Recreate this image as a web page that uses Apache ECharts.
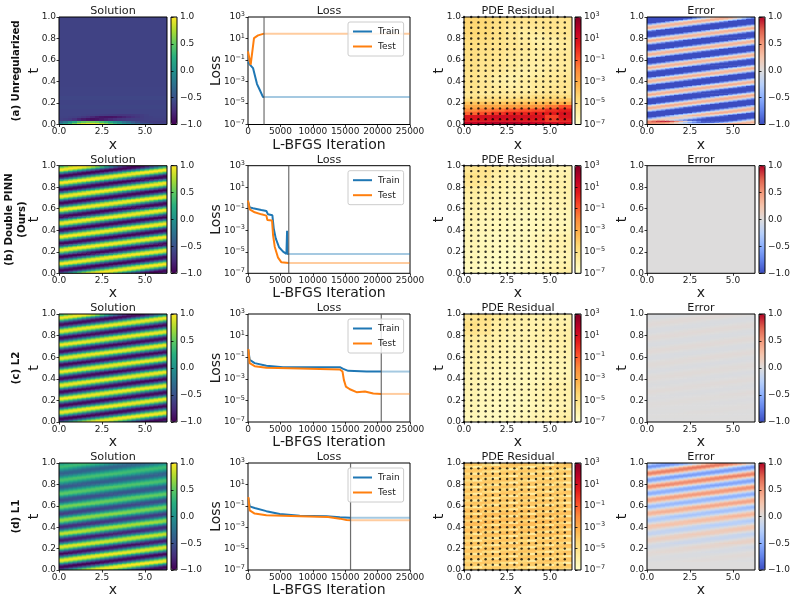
<!DOCTYPE html>
<html>
<head>
<meta charset="utf-8">
<style>html,body{margin:0;padding:0;background:#fff}#chart{width:796px;height:601px}</style>
<script src="https://cdn.jsdelivr.net/npm/echarts@6/dist/echarts.min.js"></script>
</head>
<body>
<div id="chart"></div>
<script>
// Labels
const rowLabels = ['(a) Unregularized', '(b) Double PINN\n(Ours)', '(c) L2', '(d) L1'];
const panelTitles = ['Solution', 'Loss', 'PDE Residual', 'Error'];
const domainTicks = [0, 2.5, 5];
const timeTicks = [0, 0.2, 0.4, 0.6, 0.8, 1];
const iterationTicks = [0, 5000, 10000, 15000, 20000, 25000];
const lossTicks = [1e-7, 1e-5, 1e-3, 1e-1, 1e1, 1e3];
const fieldBarTicks = [-1, -0.5, 0, 0.5, 1];
const residualBarTicks = [-7, -5, -3, -1, 1, 3];

// Loss curves: iteration and log10(loss), up to the selected iterate
const iterTrainA = [0, 258, 773, 1392, 1804, 2320, 2474];
const logTrainA = [-1.2, -1.4, -1.75, -3.24, -3.77, -4.45, -4.45];
const iterTestA = [0, 412, 670, 928, 1546, 2474];
const logTestA = [-0.2, -1.44, -1.29, 1.04, 1.29, 1.45];
const iterTrainB = [0, 258, 773, 2062, 2835, 3093, 3763, 3969, 4278, 4794, 5412, 5928, 6031, 6031, 6100, 6290];
const logTrainB = [-0.34, -0.87, -0.96, -1.12, -1.21, -1.52, -1.61, -2.82, -3.75, -4.58, -4.98, -5.2, -5.2, -3.04, -5.2, -5.2];
const iterTestB = [0, 258, 1031, 2062, 2835, 2990, 3711, 3866, 4124, 4639, 5155, 6290];
const logTestB = [-0.25, -1.05, -1.33, -1.52, -1.64, -2.05, -2.1, -3.44, -4.53, -5.55, -5.98, -6.04];
const iterTrainC = [52, 258, 1031, 2835, 5412, 10567, 14175, 14691, 15464, 18299, 20567];
const logTrainC = [-0.31, -1.24, -1.55, -1.8, -1.92, -1.92, -1.92, -2.08, -2.26, -2.33, -2.33];
const iterTestC = [52, 258, 1031, 2835, 7990, 14175, 14588, 14794, 15103, 15722, 16753, 18041, 19330, 20567];
const logTestC = [-0.25, -1.55, -1.83, -1.98, -2.05, -2.14, -2.33, -3.1, -3.72, -3.97, -4.24, -4.18, -4.37, -4.4];
const iterTrainD = [52, 258, 1031, 2835, 4897, 7990, 12113, 14175, 15825];
const logTrainD = [-0.27, -1.05, -1.2, -1.5, -1.77, -1.92, -1.98, -2.08, -2.11];
const iterTestD = [52, 258, 1031, 2835, 7990, 12371, 14175, 15206, 15825];
const logTestD = [-0.18, -1.42, -1.73, -1.89, -1.98, -2.05, -2.2, -2.33, -2.36];
const selectedIter = [2474, 6290, 20567, 15825];
const lastIter = 25000;

// Reference wave: the stripe pattern repeats every twelve rows (rows run upward in t)
const waveRow0 = [-.13,.13,.38,.61,.79,.92,.99,.99,.92,.79,.61,.38,.13,-.13,-.38,-.61,-.79,-.92,-.99,-.99,-.92,-.79,-.61,-.38];
const waveRow1 = [-.61,-.38,-.13,.13,.38,.61,.79,.92,.99,.99,.92,.79,.61,.38,.13,-.13,-.38,-.61,-.79,-.92,-.99,-.99,-.92,-.79];
const waveRow2 = [-.92,-.79,-.61,-.38,-.13,.13,.38,.61,.79,.92,.99,.99,.92,.79,.61,.38,.13,-.13,-.38,-.61,-.79,-.92,-.99,-.99];
const waveRow3 = [-.99,-.99,-.92,-.79,-.61,-.38,-.13,.13,.38,.61,.79,.92,.99,.99,.92,.79,.61,.38,.13,-.13,-.38,-.61,-.79,-.92];
const waveRow4 = [-.79,-.92,-.99,-.99,-.92,-.79,-.61,-.38,-.13,.13,.38,.61,.79,.92,.99,.99,.92,.79,.61,.38,.13,-.13,-.38,-.61];
const waveRow5 = [-.38,-.61,-.79,-.92,-.99,-.99,-.92,-.79,-.61,-.38,-.13,.13,.38,.61,.79,.92,.99,.99,.92,.79,.61,.38,.13,-.13];
const waveRow6 = [.13,-.13,-.38,-.61,-.79,-.92,-.99,-.99,-.92,-.79,-.61,-.38,-.13,.13,.38,.61,.79,.92,.99,.99,.92,.79,.61,.38];
const waveRow7 = [.61,.38,.13,-.13,-.38,-.61,-.79,-.92,-.99,-.99,-.92,-.79,-.61,-.38,-.13,.13,.38,.61,.79,.92,.99,.99,.92,.79];
const waveRow8 = [.92,.79,.61,.38,.13,-.13,-.38,-.61,-.79,-.92,-.99,-.99,-.92,-.79,-.61,-.38,-.13,.13,.38,.61,.79,.92,.99,.99];
const waveRow9 = [.99,.99,.92,.79,.61,.38,.13,-.13,-.38,-.61,-.79,-.92,-.99,-.99,-.92,-.79,-.61,-.38,-.13,.13,.38,.61,.79,.92];
const waveRow10 = [.79,.92,.99,.99,.92,.79,.61,.38,.13,-.13,-.38,-.61,-.79,-.92,-.99,-.99,-.92,-.79,-.61,-.38,-.13,.13,.38,.61];
const waveRow11 = [.38,.61,.79,.92,.99,.99,.92,.79,.61,.38,.13,-.13,-.38,-.61,-.79,-.92,-.99,-.99,-.92,-.79,-.61,-.38,-.13,.13];
const waveRows = [waveRow0, waveRow1, waveRow2, waveRow3, waveRow4, waveRow5, waveRow6, waveRow7, waveRow8, waveRow9, waveRow10, waveRow11];
const fieldRowCount = 96;

// Stripe strength per band of four rows for the L2 and L1 fits
const stripeAmpC = [1,.995,.99,.99,.985,.985,.98,.98,.98,.98,.975,.975,.975,.975,.97,.97,.97,.97,.97,.97,.97,.97,.97,.97];
const stripeAmpD = [1,1,.98,.97,.95,.92,.88,.85,.82,.78,.74,.7,.66,.62,.58,.55,.52,.49,.46,.43,.41,.39,.37,.35];

// Unregularized fit: the streak close to t = 0, then nearly constant bands
const solutionANearStart = [
  [-.1,.1,.3,.55,.75,.85,.9,.9,.85,.75,.6,.45,.3,.15,0,-.1,-.25,-.35,-.45,-.5,-.55,-.6,-.6,-.6],
  [-.35,-.2,0,.2,.4,.5,.55,.55,.5,.4,.3,.15,0,-.1,-.25,-.35,-.45,-.55,-.6,-.62,-.65,-.65,-.65,-.65],
  [-.62,-.64,-.66,-.72,-.8,-.86,-.9,-.92,-.9,-.86,-.82,-.78,-.74,-.7,-.68,-.66,-.65,-.65,-.64,-.63,-.62,-.62,-.62,-.62],
  [-.61,-.61,-.62,-.63,-.65,-.68,-.72,-.78,-.84,-.88,-.9,-.9,-.88,-.84,-.8,-.76,-.72,-.68,-.65,-.63,-.62,-.61,-.61,-.61],
  [-.6,-.6,-.6,-.6,-.6,-.61,-.62,-.62,-.63,-.64,-.65,-.66,-.67,-.68,-.68,-.68,-.67,-.66,-.64,-.62,-.6,-.6,-.6,-.6]
];
const solutionABands = [-.6,-.59,-.6,-.58,-.6,-.6,-.61,-.61,-.61,-.61,-.61,-.61,-.61,-.61,-.61,-.61,-.61,-.61,-.61,-.61,-.61,-.61];

// Residual fields as log10 magnitude
const residualA = [
  [1.6,1.8,2,2,1.8,1.5,1.2,1],
  [.6,.7,.8,.8,.6,.5,-.3,.3],
  [.8,1,1.2,1.1,1,.9,-.4,.8],
  [-1.2,-.8,-.2,.2,.2,.4,.5,.9],
  [-2,-1.6,-1.4,-1,-.8,-.6,0,.4],
  [-3,-2.8,-2.8,-2.6,-2.4,-2.2,-1.6,-.8],
  [-3.8,-3.8,-3.8,-3.7,-3.6,-3.4,-3.2,-3],
  [-4.7,-4.7,-4.7,-4.6,-4.5,-4.4,-4.2,-4],
  [-5.2,-5.2,-5.2,-5.4,-5.2,-4.9,-4.8,-4.8],
  [-5.4,-5.6,-5.6,-5.6,-5.6,-5.4,-5.2,-5.2],
  [-5.2,-5.4,-5.6,-5.8,-5.8,-5.6,-5.4,-5.4],
  [-5.2,-5.4,-5.7,-5.9,-5.9,-5.6,-5.4,-5.2],
  [-5.1,-5.4,-5.8,-6,-5.8,-5.6,-5.6,-5.3],
  [-5.2,-5.5,-5.9,-6.1,-5.8,-5.6,-5.5,-5.4],
  [-5.2,-5.4,-5.8,-6,-6,-5.8,-5.6,-5.4],
  [-5.1,-5.4,-5.6,-5.9,-6,-5.9,-5.6,-5.5],
  [-5.1,-5.3,-5.5,-5.8,-6,-5.9,-5.7,-5.6],
  [-5,-5.2,-5.4,-5.6,-5.9,-6,-5.8,-5.6],
  [-5,-5.2,-5.4,-5.6,-5.8,-5.9,-5.8,-5.6],
  [-5,-5.1,-5.3,-5.6,-5.8,-5.8,-5.6,-5.5],
  [-4.9,-5.1,-5.3,-5.5,-5.7,-5.8,-5.6,-5.5],
  [-4.9,-5,-5.2,-5.5,-5.7,-5.8,-5.7,-5.5],
  [-4.9,-5,-5.2,-5.4,-5.6,-5.8,-5.8,-5.6],
  [-4.8,-5,-5.2,-5.4,-5.6,-5.8,-5.9,-5.6],
  [-4.8,-4.9,-5.1,-5.4,-5.7,-5.9,-5.9,-5.6],
  [-4.7,-4.8,-5.1,-5.4,-5.7,-6,-5.8,-5.5],
  [-4.6,-4.7,-5,-5.4,-5.8,-5.9,-5.6,-5.4],
  [-4.5,-4.6,-5,-5.4,-5.8,-5.7,-5.4,-5.3],
  [-4.5,-4.6,-5,-5.4,-5.6,-5.5,-5.3,-5.3],
  [-4.5,-4.6,-5,-5.3,-5.5,-5.4,-5.2,-5.3],
  [-4.4,-4.5,-4.9,-5.2,-5.3,-5.3,-5.2,-5.3],
  [-4.4,-4.5,-4.8,-5.1,-5.2,-5.2,-5.2,-5.2]
];
const residualB = [
  [-6.6,-6.7,-6.7,-6.6,-6.5,-6.3,-6.1,-5.9],
  [-6.5,-6.7,-6.7,-6.7,-6.6,-6.4,-6.3,-6.1],
  [-6.4,-6.6,-6.7,-6.7,-6.6,-6.5,-6.4,-6.3],
  [-6.4,-6.5,-6.6,-6.7,-6.6,-6.4,-6.2,-6.2],
  [-6.3,-6.5,-6.6,-6.6,-6.5,-6.4,-6.2,-6.1],
  [-6.3,-6.5,-6.6,-6.6,-6.6,-6.4,-6.2,-6.1],
  [-6.3,-6.4,-6.5,-6.6,-6.6,-6.5,-6.4,-6.3],
  [-6.2,-6.4,-6.5,-6.6,-6.6,-6.5,-6.4,-6.4],
  [-6.1,-6.3,-6.4,-6.5,-6.6,-6.5,-6.4,-6.4],
  [-6.1,-6.2,-6.4,-6.5,-6.5,-6.4,-6.4,-6.3],
  [-6,-6.1,-6.3,-6.4,-6.4,-6.4,-6.3,-6.2],
  [-5.9,-6,-6.2,-6.4,-6.4,-6.3,-6.2,-6.1],
  [-5.7,-5.9,-6.1,-6.3,-6.3,-6.2,-6.1,-6],
  [-5.3,-5.5,-6,-6.2,-6.3,-6.2,-6,-6],
  [-5.1,-5.3,-5.9,-6.1,-6.2,-6.2,-6.1,-6.1],
  [-5.4,-5.2,-5.7,-6,-6.1,-6.2,-6.2,-6.2]
];
const residualCLift = 0.1;
const residualDRow0 = [-3.9,-3.7,-3.7,-3.9,-4.6,-5.6,-4,-3.7,-3.7,-3.9,-4.6,-5.6];
const residualDRow1 = [-4.6,-5.6,-4,-3.7,-3.7,-3.9,-4.6,-5.6,-4,-3.7,-3.7,-3.9];
const residualDRow2 = [-3.7,-3.9,-4.6,-5.6,-4,-3.7,-3.7,-3.9,-4.6,-5.6,-4,-3.7];
const residualDRows = [residualDRow0, residualDRow1, residualDRow2];
const residualDBandShift = [-.3,-.1,-.1,-.1,.1,.2,.1,-.1,-.1,-.2,-.2,-.2];

// Collocation points marked on the residual panels
const collocationX = [0,.419,.838,1.257,1.676,2.094,2.513,2.932,3.351,3.77,4.189,4.608,5.027,5.445,5.864];
const collocationT = [0,.05,.1,.15,.2,.25,.3,.35,.4,.45,.5,.55,.6,.65,.7,.75,.8,.85,.9,.95,1];

// Colour ramps
const viridis = ['#440154','#472d7b','#3b528b','#2c728e','#21918c','#28ae80','#5ec962','#addc30','#fde725'];
const ylOrRd = ['#ffffcc','#ffeda0','#fed976','#feb24c','#fd8d3c','#fc4e2a','#e31a1c','#bd0026','#800026'];
const coolwarm = ['#3b4cc0','#6282ea','#8db0fe','#b8d0f9','#dddcdc','#f5c4ac','#f49a7b','#de604d','#b40426'];

// Assemble the fields
const exact = [];
for (let i = 0; i < fieldRowCount; i++) exact.push(waveRows[i % 12]);
const scaleByBand = (amp) => exact.map((row, i) => row.map(v => v * amp[i >> 2]));
const solutionB = exact;
const solutionC = scaleByBand(stripeAmpC);
const solutionD = scaleByBand(stripeAmpD);
const solutionA = exact.map((row, i) => row.map((v, j) => {
  const near = i >> 1;
  if (near < solutionANearStart.length) return solutionANearStart[near][j];
  return solutionABands[Math.min(solutionABands.length - 1, (i - 10) >> 2)];
}));
const clip = v => Math.max(-1, Math.min(1, v));
const errorOf = fit => fit.map((row, i) => row.map((v, j) => clip(v - exact[i][j])));
const solutions = [solutionA, solutionB, solutionC, solutionD];
const errors = [errorOf(solutionA), [[0]], errorOf(solutionC), errorOf(solutionD)];
const residualD = [];
for (let i = 0; i < 48; i++) {
  residualD.push(residualDRows[i % 3].map(v => v + residualDBandShift[i >> 2]));
}
const residualC = residualB.map(row => row.map(v => v + residualCLift));
const residuals = [residualA, residualB, residualC, residualD];

const lossData = [
  [iterTrainA, logTrainA, iterTestA, logTestA],
  [iterTrainB, logTrainB, iterTestB, logTestB],
  [iterTrainC, logTrainC, iterTestC, logTestC],
  [iterTrainD, logTrainD, iterTestD, logTestD]
];

// Page layout in pixels
const colBox = [[59, 167], [248, 410], [464, 572], [647, 755]];
const rowBox = [[17, 124.5], [165.7, 273.3], [314, 422], [463, 570]];
const barLeft = [171, 0, 575, 759];
const barWidth = 6;
const xMax = 6.283;
const font = 'DejaVu Sans';
const ink = '#1a1a1a';
const lineBlue = '#1f77b4';
const lineOrange = '#ff7f0e';

const grids = [], xAxes = [], yAxes = [], series = [], visualMaps = [], titles = [], legends = [], graphics = [];

const minus = s => String(s).replace('-', '\u2212');
const powerLabel = e => '{b|10}{s|' + minus(e) + '}';
const powerRich = { b: { fontSize: 9, fontFamily: font, color: ink }, s: { fontSize: 6.5, fontFamily: font, color: ink, padding: [0, 0, 5, 0] } };
const tickStyle = { show: true, length: 2.5, lineStyle: { color: '#000', width: 0.8 } };

function addGrid(col, row, z, leftOverride, widthOverride) {
  const left = leftOverride === undefined ? colBox[col][0] : leftOverride;
  const width = widthOverride === undefined ? colBox[col][1] - colBox[col][0] : widthOverride;
  grids.push({ left, width, top: rowBox[row][0], height: rowBox[row][1] - rowBox[row][0], z,
    show: true, borderColor: '#000', borderWidth: 1, backgroundColor: 'transparent' });
  return grids.length - 1;
}

function valueX(gridIndex, opts) {
  xAxes.push(Object.assign({ gridIndex, type: 'value', z: 8, splitLine: { show: false }, axisLine: { show: false },
    axisTick: Object.assign({}, tickStyle, { customValues: opts.ticks }),
    axisLabel: { customValues: opts.ticks, fontSize: 9, fontFamily: font, color: ink, margin: 3, hideOverlap: false, formatter: opts.fmt },
    name: opts.name, nameLocation: 'middle', nameGap: 13.5, nameMoveOverlap: false,
    nameTextStyle: { fontSize: 14, fontFamily: font, color: ink } }, { min: opts.min, max: opts.max }));
  return xAxes.length - 1;
}

function valueY(gridIndex, opts) {
  yAxes.push(Object.assign({ gridIndex, type: opts.log ? 'log' : 'value', logBase: 10, z: 8, splitLine: { show: false }, axisLine: { show: false },
    position: opts.right ? 'right' : 'left',
    axisTick: Object.assign({}, tickStyle, { customValues: opts.ticks }),
    axisLabel: { customValues: opts.ticks, fontSize: 9, fontFamily: font, color: ink, margin: 3, hideOverlap: false, formatter: opts.fmt, rich: powerRich },
    name: opts.name, nameLocation: 'middle', nameGap: opts.nameGap, nameMoveOverlap: false,
    nameTextStyle: { fontSize: 14, fontFamily: font, color: ink } }, { min: opts.min, max: opts.max }));
  return yAxes.length - 1;
}

// Cell spanning [x0,x1]×[t0,t1], overlapped slightly so no seams appear between neighbours
function renderSmoothCell(params, api) {
  const a = api.coord([api.value(0), api.value(1)]);
  const b = api.coord([api.value(2), api.value(3)]);
  return { type: 'rect', shape: { x: a[0], y: b[1], width: b[0] - a[0] + 0.7, height: a[1] - b[1] + 0.7 },
    style: { fill: api.visual('color') } };
}

// Same cell snapped to whole pixels, for fields that are nearly flat
function renderSnappedCell(params, api) {
  const a = api.coord([api.value(0), api.value(1)]);
  const b = api.coord([api.value(2), api.value(3)]);
  const x = Math.floor(a[0]), y = Math.floor(b[1]);
  return { type: 'rect', shape: { x, y, width: Math.ceil(b[0]) - x, height: Math.ceil(a[1]) - y },
    style: { fill: api.visual('color') } };
}

function addField(col, row, table, ramp, lo, hi, renderItem) {
  const g = addGrid(col, row, 5);
  const xi = valueX(g, { ticks: domainTicks, min: 0, max: xMax, name: 'x', fmt: v => v.toFixed(1) });
  const yi = valueY(g, { ticks: timeTicks, min: 0, max: 1, name: 't', nameGap: 18, fmt: v => v.toFixed(1) });
  const data = [];
  const nr = table.length, nc = table[0].length;
  table.forEach((r, i) => r.forEach((v, j) => data.push([j / nc * xMax, i / nr, (j + 1) / nc * xMax, (i + 1) / nr, v])));
  series.push({ type: 'custom', xAxisIndex: xi, yAxisIndex: yi, data, renderItem: renderItem || renderSmoothCell, clip: true, silent: true, progressive: 0,
    encode: { x: [0, 2], y: [1, 3] }, z: 2 });
  visualMaps.push({ type: 'continuous', min: lo, max: hi, dimension: 4, seriesIndex: series.length - 1, calculable: false,
    inRange: { color: ramp }, left: barLeft[col], top: rowBox[row][0], itemWidth: barWidth,
    itemHeight: rowBox[row][1] - rowBox[row][0], padding: 0, z: 3 });
  return [xi, yi];
}

function addBar(col, row, ticks, fmt, lo, hi) {
  const g = addGrid(col, row, 5, barLeft[col], barWidth);
  xAxes.push({ gridIndex: g, type: 'value', show: false, min: 0, max: 1 });
  valueY(g, { ticks, min: lo, max: hi, right: true, fmt });
}

function addTitle(col, row, text) {
  titles.push({ text, left: (colBox[col][0] + colBox[col][1]) / 2, top: rowBox[row][0] - 11, textAlign: 'center', padding: 0,
    textStyle: { fontSize: 11.2, fontWeight: 'normal', fontFamily: font, color: ink } });
}

rowLabels.forEach((label, row) => {
  // Solution
  addField(0, row, solutions[row], viridis, -1, 1, row === 0 ? renderSnappedCell : renderSmoothCell);
  addBar(0, row, fieldBarTicks, v => minus(v.toFixed(1)), -1, 1);
  addTitle(0, row, panelTitles[0]);

  // Loss history
  const g = addGrid(1, row, 5);
  const xi = valueX(g, { ticks: iterationTicks, min: 0, max: lastIter, name: 'L-BFGS Iteration', fmt: v => String(v) });
  const yi = valueY(g, { ticks: lossTicks, log: true, min: 1e-7, max: 1e3, name: 'Loss', nameGap: 25, fmt: v => powerLabel(Math.round(Math.log10(v))) });
  const [itTr, lgTr, itTe, lgTe] = lossData[row];
  const points = (it, lg) => it.map((x, k) => [x, Math.pow(10, lg[k])]);
  const tail = lg => [[selectedIter[row], Math.pow(10, lg[lg.length - 1])], [lastIter, Math.pow(10, lg[lg.length - 1])]];
  const lineBase = { type: 'line', xAxisIndex: xi, yAxisIndex: yi, showSymbol: false, symbol: 'none', silent: true, z: 6 };
  series.push(Object.assign({}, lineBase, { name: 'Train after selection', data: tail(lgTr), lineStyle: { color: lineBlue, width: 2, opacity: 0.4 }, itemStyle: { color: lineBlue } }));
  series.push(Object.assign({}, lineBase, { name: 'Test after selection', data: tail(lgTe), lineStyle: { color: lineOrange, width: 2, opacity: 0.4 }, itemStyle: { color: lineOrange } }));
  series.push(Object.assign({}, lineBase, { name: 'Train', data: points(itTr, lgTr), lineStyle: { color: lineBlue, width: 2 }, itemStyle: { color: lineBlue } }));
  series.push(Object.assign({}, lineBase, { name: 'Test', data: points(itTe, lgTe), lineStyle: { color: lineOrange, width: 2 }, itemStyle: { color: lineOrange } }));
  series.push(Object.assign({}, lineBase, { name: 'Selected iterate', data: [[selectedIter[row], 1e-7], [selectedIter[row], 1e3]], lineStyle: { color: '#555', width: 1.2, opacity: 0.85 }, itemStyle: { color: '#555' } }));
  legends.push({ data: ['Train', 'Test'], icon: 'rect', orient: 'vertical', left: 348, top: rowBox[row][0] + 5, itemWidth: 19, itemHeight: 2, itemGap: 6,
    padding: [5, 4, 5, 5], backgroundColor: 'rgba(255,255,255,0.8)', borderColor: '#ccc', borderWidth: 1, borderRadius: 2, selectedMode: false,
    textStyle: { fontSize: 9, fontFamily: font, color: ink, padding: [0, 0, 0, 1] }, z: 9 });
  addTitle(1, row, panelTitles[1]);

  // PDE residual with its collocation points
  const [dx, dy] = addField(2, row, residuals[row], ylOrRd, -7, 3);
  const dots = [];
  collocationT.forEach(t => collocationX.forEach(x => dots.push([x, t])));
  series.push({ type: 'scatter', xAxisIndex: dx, yAxisIndex: dy, data: dots, symbolSize: 2.4, silent: true, clip: false, z: 7,
    itemStyle: { color: '#000' } });
  addBar(2, row, residualBarTicks, v => powerLabel(v), -7, 3);
  addTitle(2, row, panelTitles[2]);

  // Error
  addField(3, row, errors[row], coolwarm, -1, 1);
  addBar(3, row, fieldBarTicks, v => minus(v.toFixed(1)), -1, 1);
  addTitle(3, row, panelTitles[3]);

  // Row heading
  graphics.push({ type: 'text', x: 16, y: (rowBox[row][0] + rowBox[row][1]) / 2, rotation: Math.PI / 2,
    style: { text: label, font: 'bold 10.2px "DejaVu Sans"', fill: '#111', textAlign: 'center', textVerticalAlign: 'middle', lineHeight: 12.5 } });
});

const chart = echarts.init(document.getElementById('chart'), null, { renderer: 'canvas' });
chart.setOption({
  animation: false,
  backgroundColor: '#fff',
  title: titles,
  legend: legends,
  grid: grids,
  xAxis: xAxes,
  yAxis: yAxes,
  visualMap: visualMaps,
  graphic: graphics,
  series
});
</script>
</body>
</html>
